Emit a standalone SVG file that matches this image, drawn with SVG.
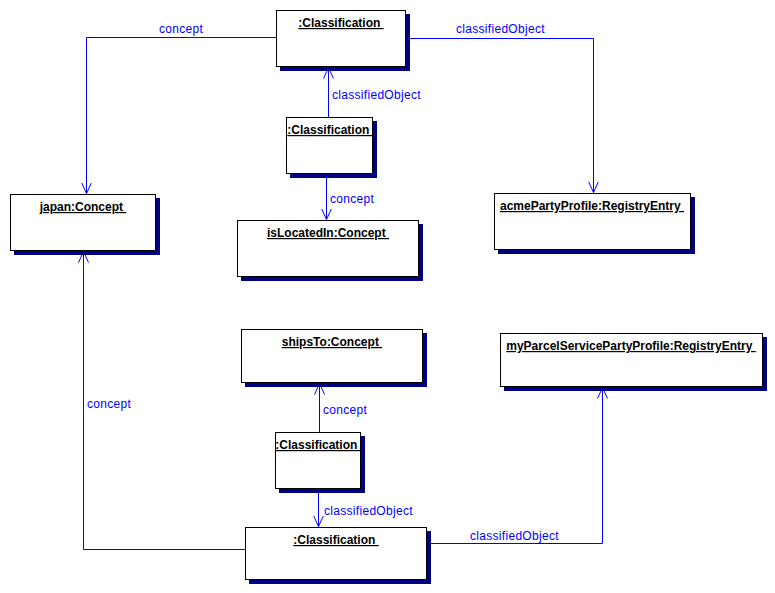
<svg xmlns="http://www.w3.org/2000/svg" width="775" height="593" viewBox="0 0 775 593">
  <defs>
    <marker id="open" markerWidth="12" markerHeight="14" refX="11" refY="7" orient="auto" markerUnits="userSpaceOnUse">
      <path d="M0,2 L11,7 L0,12" fill="none" stroke="#0000ff" stroke-width="1"/>
    </marker>
  </defs>
  <style>
    .shadow { fill: #000080; }
    .box { fill: #ffffff; stroke: #000000; stroke-width: 1; }
    .title { font-family: "Liberation Sans", Arial, sans-serif; font-size: 12px; font-weight: bold; text-decoration: underline; fill: #000000; text-anchor: middle; }
    .edge { fill: none; stroke: #0000ff; stroke-width: 1; }
    .lbl { font-family: "Liberation Sans", Arial, sans-serif; font-size: 12px; fill: #0000ff; letter-spacing: 0.3px; }
  </style>
  <rect width="775" height="593" fill="#ffffff"/>

  <g id="edges">
    <polyline class="edge" points="276,37.5 86.5,37.5 86.5,193.5" marker-end="url(#open)"/>
    <text class="lbl" x="159" y="33">concept</text>

    <polyline class="edge" points="406,38.5 593.5,38.5 593.5,192.5" marker-end="url(#open)"/>
    <text class="lbl" x="456" y="33">classifiedObject</text>

    <line class="edge" x1="328.5" y1="117" x2="328.5" y2="67.5" marker-end="url(#open)"/>
    <text class="lbl" x="332" y="99">classifiedObject</text>

    <line class="edge" x1="326.5" y1="174" x2="326.5" y2="219.5" marker-end="url(#open)"/>
    <text class="lbl" x="330" y="203">concept</text>

    <polyline class="edge" points="245,549.5 83.5,549.5 83.5,251.5" marker-end="url(#open)"/>
    <text class="lbl" x="87" y="408">concept</text>

    <polyline class="edge" points="427,543.5 602.5,543.5 602.5,387.5" marker-end="url(#open)"/>
    <text class="lbl" x="470" y="540">classifiedObject</text>

    <line class="edge" x1="319.5" y1="432" x2="319.5" y2="383.5" marker-end="url(#open)"/>
    <text class="lbl" x="323" y="414">concept</text>

    <line class="edge" x1="318.5" y1="489" x2="318.5" y2="526.5" marker-end="url(#open)"/>
    <text class="lbl" x="324" y="515">classifiedObject</text>
  </g>

  <g id="classification-top">
    <rect class="shadow" x="280" y="14" width="130" height="57"/>
    <rect class="box" x="276.5" y="10.5" width="129" height="56"/>
    <text class="title" x="341" y="27" xml:space="preserve">:Classification </text>
  </g>

  <g id="classification-located">
    <rect class="shadow" x="290" y="121" width="87" height="57"/>
    <rect class="box" x="286.5" y="117.5" width="86" height="56"/>
    <text class="title" x="330" y="134" xml:space="preserve">:Classification </text>
  </g>

  <g id="japan-concept">
    <rect class="shadow" x="14" y="198" width="146" height="57"/>
    <rect class="box" x="10.5" y="194.5" width="145" height="56"/>
    <text class="title" x="83" y="211" xml:space="preserve">japan:Concept </text>
  </g>

  <g id="islocatedin-concept">
    <rect class="shadow" x="241" y="224" width="182" height="57"/>
    <rect class="box" x="237.5" y="220.5" width="181" height="56"/>
    <text class="title" x="328" y="237" xml:space="preserve">isLocatedIn:Concept </text>
  </g>

  <g id="acme-entry">
    <rect class="shadow" x="498" y="197" width="197" height="57"/>
    <rect class="box" x="494.5" y="193.5" width="196" height="56"/>
    <text class="title" x="592" y="210" xml:space="preserve">acmePartyProfile:RegistryEntry </text>
  </g>

  <g id="myparcel-entry">
    <rect class="shadow" x="504" y="337" width="263" height="54"/>
    <rect class="box" x="500.5" y="333.5" width="262" height="53"/>
    <text class="title" x="631" y="350" xml:space="preserve">myParcelServicePartyProfile:RegistryEntry </text>
  </g>

  <g id="shipsto-concept">
    <rect class="shadow" x="245" y="333" width="182" height="54"/>
    <rect class="box" x="241.5" y="329.5" width="181" height="53"/>
    <text class="title" x="332" y="346" xml:space="preserve">shipsTo:Concept </text>
  </g>

  <g id="classification-ships">
    <rect class="shadow" x="279" y="436" width="86" height="57"/>
    <rect class="box" x="275.5" y="432.5" width="85" height="56"/>
    <text class="title" x="318" y="449" xml:space="preserve">:Classification </text>
  </g>

  <g id="classification-bottom">
    <rect class="shadow" x="249" y="531" width="182" height="53"/>
    <rect class="box" x="245.5" y="527.5" width="181" height="52"/>
    <text class="title" x="336" y="544" xml:space="preserve">:Classification </text>
  </g>
</svg>
